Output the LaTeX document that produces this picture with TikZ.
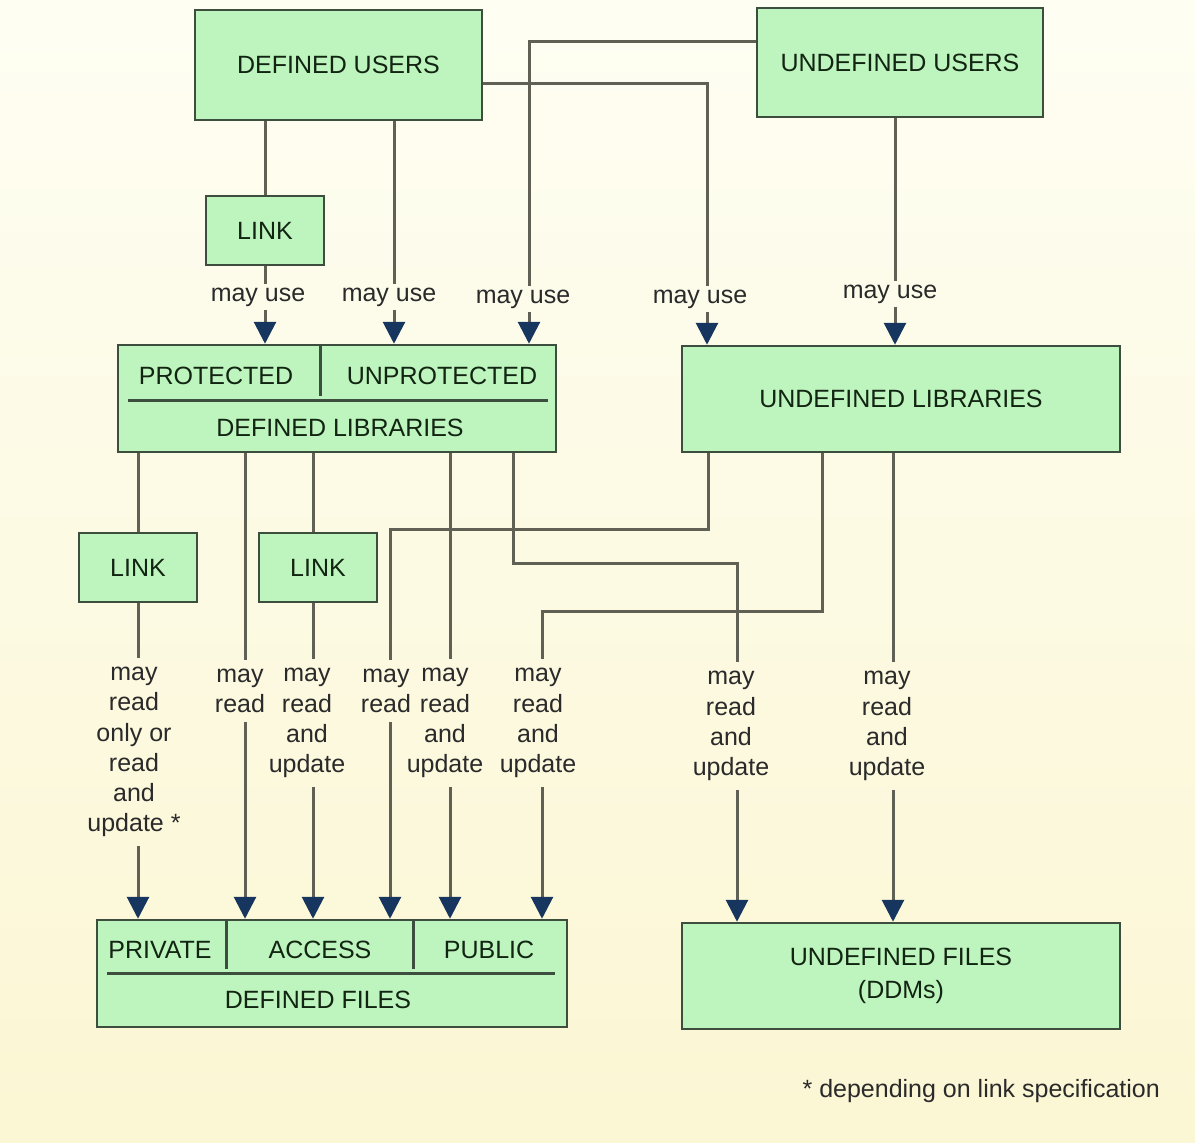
\documentclass[tikz,border=0pt]{standalone}
\usepackage{fontspec}
\setmainfont{Liberation Sans}
\usetikzlibrary{arrows.meta}
\definecolor{bgtop}{HTML}{FEFEF3}
\definecolor{bgbot}{HTML}{FBF6D3}
\definecolor{boxfill}{HTML}{BEF5BE}
\definecolor{boxline}{HTML}{3E4E3E}
\definecolor{lncol}{HTML}{606054}
\definecolor{tipblue}{HTML}{17365F}
\definecolor{boxtext}{HTML}{122412}
\definecolor{lbltext}{HTML}{2A2A2A}
\begin{document}
\begin{tikzpicture}[x=1pt,y=-1pt,
  every node/.style={font=\fontsize{25}{30.2}\selectfont},
  box/.style={draw=boxline, fill=boxfill, line width=2.5pt, text=boxtext, inner sep=0pt},
  btext/.style={text=boxtext, inner sep=0pt},
  lblu/.style={text=lbltext, align=center, inner xsep=2pt, inner ysep=3pt},
  lbll/.style={text=lbltext, align=center, inner xsep=2pt, inner ysep=9pt},
  conn/.style={draw=lncol, line width=3pt},
  arr/.style={conn, -{Triangle[width=22pt,length=22pt,color=tipblue]}},
  divider/.style={draw=boxline, line width=3pt}]
\shade[top color=bgtop, bottom color=bgbot] (0,0) rectangle (1195,1143);
\useasboundingbox (0,0) rectangle (1195,1143);

% boxes
\node[box, minimum width=287pt, minimum height=110pt] (du) at (338.5,65) {DEFINED USERS};
\node[box, minimum width=286pt, minimum height=109pt] (uu) at (900,62.5) {UNDEFINED USERS};
\node[box, minimum width=118pt, minimum height=69pt] (link) at (265,230.5) {LINK};
\node[box, minimum width=438pt, minimum height=107pt] (dl) at (337,398.5) {};
\node[box, minimum width=438pt, minimum height=106pt] (ul) at (901,399) {UNDEFINED LIBRARIES};
\node[box, minimum width=118pt, minimum height=69pt] (linka) at (138,567.5) {LINK};
\node[box, minimum width=118pt, minimum height=69pt] (linkb) at (318,567.5) {LINK};
\node[box, minimum width=470pt, minimum height=107pt] (df) at (332,973.5) {};
\node[box, minimum width=438pt, minimum height=106pt, align=center] (uf) at (901,976) {UNDEFINED FILES\\[3pt](DDMs)};

% inner parts of defined libraries
\node[btext] (prot) at (216,376) {PROTECTED};
\node[btext] (unprot) at (442,376) {UNPROTECTED};
\node[btext] (dlt) at (340,428) {DEFINED LIBRARIES};
\draw[divider] (320,345) -- (320,396);
\draw[divider] (128,400) -- (548,400);

% inner parts of defined files
\node[btext] (priv) at (160,950) {PRIVATE};
\node[btext] (acc) at (320,950) {ACCESS};
\node[btext] (pub) at (489,950) {PUBLIC};
\node[btext] (dft) at (318,1000) {DEFINED FILES};
\draw[divider] (226,920) -- (226,969);
\draw[divider] (413,920) -- (413,969);
\draw[divider] (107,973) -- (555,973);

% labels
\node[lblu] (mu1) at (258,297) {may use};
\node[lblu] (mu2) at (389,297) {may use};
\node[lblu] (mu3) at (523,299) {may use};
\node[lblu] (mu4) at (700,299) {may use};
\node[lblu] (mu5) at (890,294) {may use};

\node[lbll] (ml1) at (134,752) {may\\read\\only or\\read\\and\\update *};
\node[lbll] (ml2) at (240,691) {may\\read};
\node[lbll] (ml3) at (307,723) {may\\read\\and\\update};
\node[lbll] (ml4) at (386,691) {may\\read};
\node[lbll] (ml5) at (445,723) {may\\read\\and\\update};
\node[lbll] (ml6) at (538,723) {may\\read\\and\\update};
\node[lbll] (ml7) at (731,726) {may\\read\\and\\update};
\node[lbll] (ml8) at (887,726) {may\\read\\and\\update};

\node[text=lbltext, anchor=east, inner sep=0pt] (foot) at (1160,1091) {* depending on link specification};

% helper coordinates
\coordinate (x2) at (394,0);
\coordinate (c4a) at (529,41);
\coordinate (c5a) at (707,83);
\coordinate (x6) at (895,0);
\coordinate (x9) at (245,0);
\coordinate (x10) at (313,0);
\coordinate (c12a) at (708,529);
\coordinate (c12b) at (390,529);
\coordinate (x13) at (450,0);
\coordinate (c14a) at (822,611);
\coordinate (c14b) at (542,611);
\coordinate (c15a) at (513,563);
\coordinate (c15b) at (737,563);
\coordinate (x16) at (893,0);

% top connectors
\draw[conn] (du.south -| link.north) -- (link.north);
\draw[conn] (link.south) -- (link.south |- mu1.north);
\draw[arr] (link.south |- mu1.south) -- (link.south |- dl.north);

\draw[conn] (du.south -| x2) -- (mu2.north -| x2);
\draw[arr] (mu2.south -| x2) -- (dl.north -| x2);

\draw[conn] (uu.west |- c4a) -- (c4a) -- (mu3.north -| c4a);
\draw[arr] (mu3.south -| c4a) -- (dl.north -| c4a);

\draw[conn] (du.east |- c5a) -- (c5a) -- (mu4.north -| c5a);
\draw[arr] (mu4.south -| c5a) -- (ul.north -| c5a);

\draw[conn] (uu.south -| x6) -- (mu5.north -| x6);
\draw[arr] (mu5.south -| x6) -- (ul.north -| x6);

% lower connectors
\draw[conn] (dl.south -| linka.north) -- (linka.north);
\draw[conn] (linka.south) -- (linka.south |- ml1.north);
\draw[arr] (linka.south |- ml1.south) -- (linka.south |- df.north);

\draw[conn] (dl.south -| x9) -- (ml2.north -| x9);
\draw[arr] (ml2.south -| x9) -- (df.north -| x9);

\draw[conn] (dl.south -| x10) -- (linkb.north -| x10);
\draw[conn] (linkb.south -| x10) -- (ml3.north -| x10);
\draw[arr] (ml3.south -| x10) -- (df.north -| x10);

\draw[conn] (ul.south -| c12a) -- (c12a) -- (c12b) -- (ml4.north -| c12b);
\draw[arr] (ml4.south -| c12b) -- (df.north -| c12b);

\draw[conn] (dl.south -| x13) -- (ml5.north -| x13);
\draw[arr] (ml5.south -| x13) -- (df.north -| x13);

\draw[conn] (ul.south -| c14a) -- (c14a) -- (c14b) -- (ml6.north -| c14b);
\draw[arr] (ml6.south -| c14b) -- (df.north -| c14b);

\draw[conn] (dl.south -| c15a) -- (c15a) -- (c15b) -- (ml7.north -| c15b);
\draw[arr] (ml7.south -| c15b) -- (uf.north -| c15b);

\draw[conn] (ul.south -| x16) -- (ml8.north -| x16);
\draw[arr] (ml8.south -| x16) -- (uf.north -| x16);
\end{tikzpicture}
\end{document}
